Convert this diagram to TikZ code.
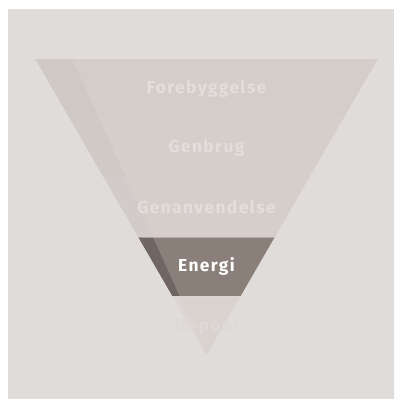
\documentclass[tikz,border=0pt]{standalone}
\usepackage{fontspec}
\newfontfamily\levelfont[LetterSpace=8]{Fira Sans}
\usetikzlibrary{calc}
\definecolor{paper_gray}{RGB}{224, 220, 217}
\definecolor{pale_band}{RGB}{213, 205, 202}
\definecolor{pale_side}{RGB}{207, 201, 198}
\definecolor{pale_text}{RGB}{227, 222, 219}
\definecolor{faint_band}{RGB}{217, 211, 208}
\definecolor{faint_side}{RGB}{219, 214, 211}
\definecolor{faint_text}{RGB}{222, 217, 214}
\definecolor{mauve_band}{RGB}{139, 127, 122}
\definecolor{mauve_side}{RGB}{111, 102, 99}
% one band of the funnel: top y, bottom y, face colour, side colour
\def\band#1#2#3#4{%
    \begin{scope}
        \clip (0,#1) rectangle (394,#2);
        \fill[#3] (tl) -- (tr) -- (tip) -- cycle;
        \fill[#4] (tl) -- (sl) -- (tip) -- cycle;
    \end{scope}}

\begin{document}
\begin{tikzpicture}[
    x=0.75pt, y=-0.75pt,
    % Level label style
    level/.style={
        text=#1,
        font=\levelfont\bfseries\fontsize{13}{15}\selectfont,
        inner sep=0pt
    },
    % Band seam style
    seam/.style={
        draw=paper_gray,
        opacity=0.5,
        line width=0.5pt
    }
]

\useasboundingbox (0,0) rectangle (394,399);
\fill[paper_gray] (8,9) rectangle (394,399);

% Corners of the funnel
\coordinate (tl) at (35,59);
\coordinate (tr) at (378,59);
\coordinate (sl) at (72,59);
\coordinate (tip) at (206.5,355.5);

% Bands from top to bottom
\band{59}{118.3}{pale_band}{pale_side}
\band{118.3}{177.6}{pale_band!92!faint_band}{pale_side!92!faint_side}
\band{177.6}{237}{pale_band!80!faint_band}{pale_side!80!faint_side}
\band{237}{296.3}{mauve_band}{mauve_side}
\band{296.3}{356}{faint_band}{faint_side}

\draw[seam] (0,237) -- (394,237);
\draw[seam] (0,296.3) -- (394,296.3);
\fill[white] (0,0) rectangle (8,399);
\fill[white] (0,0) rectangle (394,9);
\fill[paper_gray] (8,9) rectangle (394,59);
\begin{scope}
    \clip (8,59) rectangle (394,399);
    \fill[paper_gray] (8,59) -- (tl) -- (tip) -- (206.5,399) -- (8,399) -- cycle;
    \fill[paper_gray] (394,59) -- (tr) -- (tip) -- (206.5,399) -- (394,399) -- cycle;
\end{scope}

% Level labels
\node[level=pale_text] (forebyggelse) at (206.5,88.7) {Forebyggelse};
\node[level=pale_text] (genbrug) at (206.5,148) {Genbrug};
\node[level=pale_text] (genanvendelse) at (206.5,207.3) {Genanvendelse};
\node[level=white] (energi) at (206.5,266.6) {Energi};
\node[level=faint_text] (deponi) at (206.5,326) {Deponi};

\end{tikzpicture}
\end{document}
